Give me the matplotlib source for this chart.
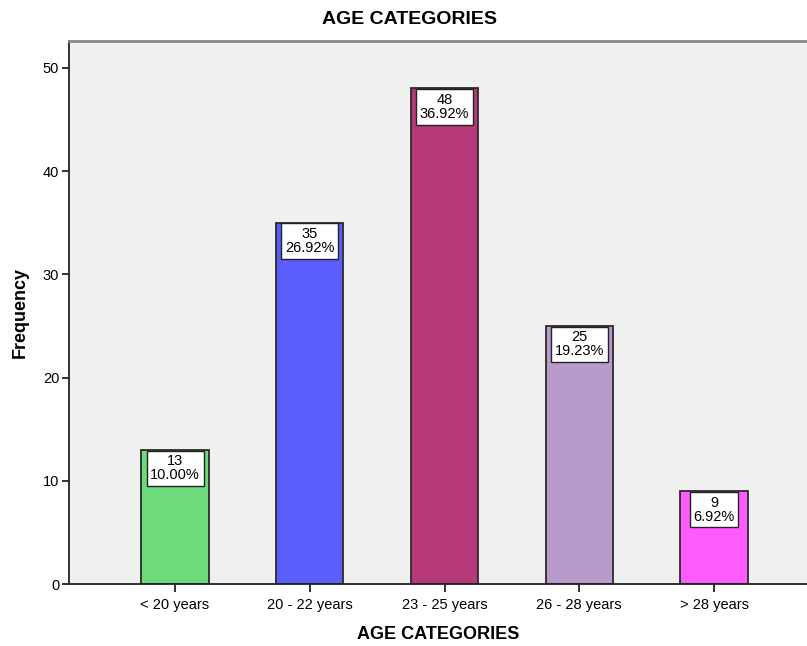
import numpy as np
import matplotlib.pyplot as plt

plt.rcParams['font.family'] = ['Liberation Sans', 'DejaVu Sans']

# Age groups and counts
categories = ["< 20 years", "20 - 22 years", "23 - 25 years", "26 - 28 years", "> 28 years"]
counts = [13, 35, 48, 25, 9]
percents = [10.00, 26.92, 36.92, 19.23, 6.92]
colors = ["#6dda7c", "#5a5efc", "#b6397a", "#b89bca", "#fd5cfd"]
yticks = [0, 10, 20, 30, 40, 50]

fig = plt.figure(figsize=(8.07, 6.46), dpi=100)
ax = fig.add_axes([69 / 807, 62 / 646, 1 - 69 / 807, (584 - 41) / 646])
ax.set_facecolor("#f0f0f0")

x = np.arange(len(categories))
ax.bar(x, counts, width=0.5, color=colors, edgecolor="#2a2a2a", linewidth=1.3, zorder=2)

for xi, c, p in zip(x, counts, percents):
    ax.annotate(f"{c}\n{p:.2f}%", xy=(xi, c), xytext=(0, -3.2), textcoords="offset points",
                ha="center", va="top", fontsize=10.5, linespacing=1.0, zorder=3,
                bbox=dict(boxstyle="square,pad=0.25", fc="white", ec="#222222", lw=1))

ax.set_xlim(-0.787, 4.69)
ax.set_ylim(0, 52.6)
ax.set_xticks(x)
ax.set_xticklabels(categories, fontsize=10.5)
ax.set_yticks(yticks)
ax.tick_params(axis="y", labelsize=10.5, length=5, width=1.3, color="#222222", pad=2)
ax.tick_params(axis="x", length=6, width=1.3, color="#222222", pad=4)

for side in ["left", "bottom"]:
    ax.spines[side].set_color("#222222")
    ax.spines[side].set_linewidth(1.3)
ax.spines["top"].set_color("#8a8a8a")
ax.spines["top"].set_linewidth(2)
ax.spines["right"].set_visible(False)

ax.set_ylabel("Frequency", fontsize=13, fontweight="bold", labelpad=10)
ax.set_xlabel("AGE CATEGORIES", fontsize=13, fontweight="bold", labelpad=10)
fig.text(409 / 807, 1 - 19 / 646, "AGE CATEGORIES", ha="center", va="center",
         fontsize=14, fontweight="bold")

fig.savefig("out.png", dpi=100)
